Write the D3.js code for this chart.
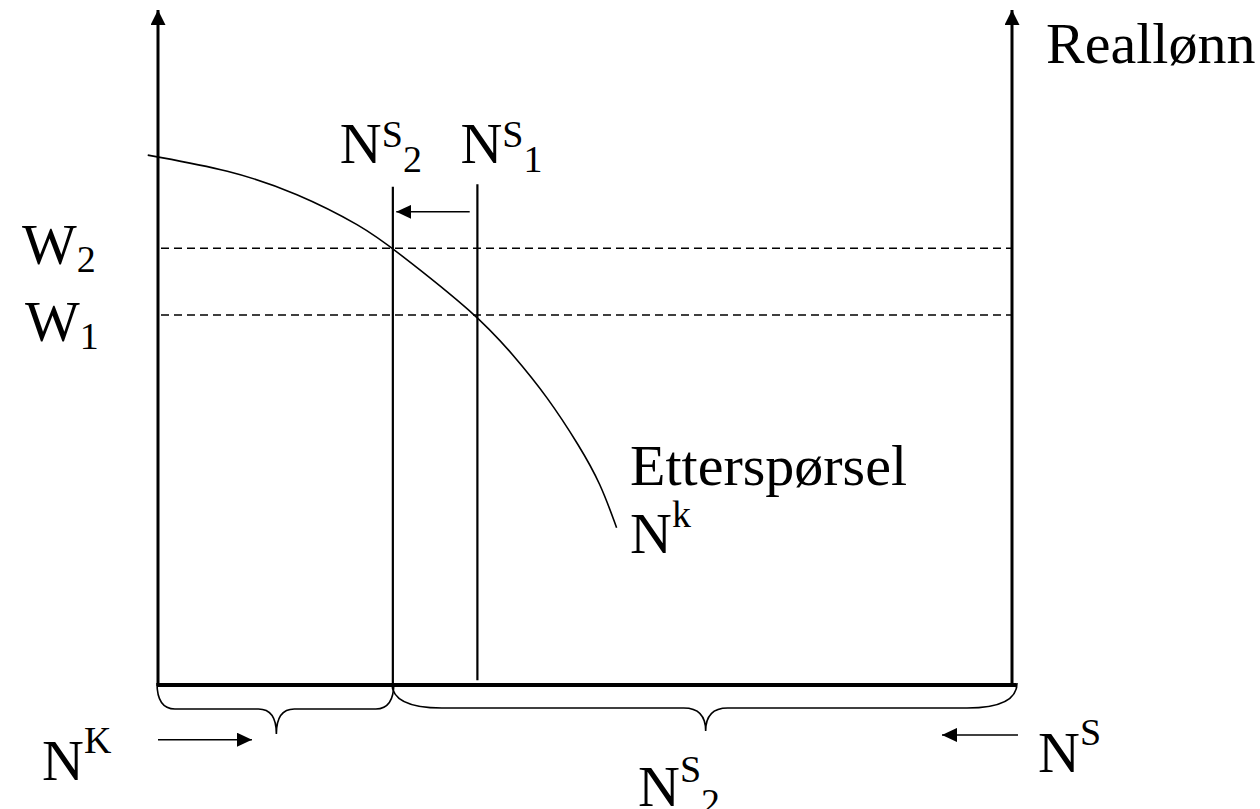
<!DOCTYPE html>
<html>
<head>
<meta charset="utf-8">
<script src="https://cdn.jsdelivr.net/npm/d3@7"></script>
<style>
  body { margin: 0; background: #fff; }
  text { font-family: "Liberation Serif", "Times New Roman", serif; fill: #000; }
</style>
</head>
<body>
<div id="diagram"></div>
<script>
// labour market diagram: demand curve, two supply levels, two wage levels
// data units: x = labour 0..100 between the two axes, y = real wage 0..100
var demandX = [-1.2, 8.4, 16.3, 24.0, 27.5, 37.4, 41.6, 45.6, 49.4, 51.8, 53.7];
var demandY = [78.5, 76.3, 72.9, 67.9, 64.7, 54.8, 48.9, 42.7, 35.3, 29.9, 23.3];
var wageLevels = [64.7, 54.8];
var wageSubs = ["2", "1"];
var supplyLevels = [27.5, 37.4];
var supplyTops = [73.8, 74.2];
var supplyBottoms = [0, 0.7];
var supplySubs = ["2", "1"];
var braceSpans = [[0, 27.5], [27.5, 100]];

var width = 1260;
var height = 809;

var svg = d3.select("#diagram").append("svg")
  .attr("width", width).attr("height", height);

// scales
var xScale = d3.scaleLinear().domain([0, 100]).range([158, 1012]);
var yScale = d3.scaleLinear().domain([0, 100]).range([685, 10]);

// arrow heads
var defs = svg.append("defs");
function addMarker(id, w, h) {
  defs.append("marker").attr("id", id)
    .attr("markerUnits", "userSpaceOnUse")
    .attr("markerWidth", w).attr("markerHeight", h)
    .attr("viewBox", "0 0 " + w + " " + h)
    .attr("refX", w).attr("refY", h / 2)
    .attr("orient", "auto")
    .append("path")
    .attr("d", "M0,0 L" + w + "," + (h / 2) + " L0," + h + " Z")
    .attr("fill", "#000");
}
addMarker("bigArrow", 15, 15);
addMarker("smallArrow", 15, 14);

// vertical axes (left and right)
svg.selectAll("line.axis").data([0, 100]).enter()
  .append("line").attr("class", "axis")
  .attr("x1", function(d) { return xScale(d); })
  .attr("x2", function(d) { return xScale(d); })
  .attr("y1", yScale(0) + 1)
  .attr("y2", yScale(100))
  .attr("stroke", "#000").attr("stroke-width", 3)
  .attr("marker-end", "url(#bigArrow)");

// bottom axis
svg.append("line")
  .attr("x1", xScale(0) - 1).attr("x2", xScale(100) + 4)
  .attr("y1", yScale(0)).attr("y2", yScale(0))
  .attr("stroke", "#000").attr("stroke-width", 4);

// dashed wage lines
svg.selectAll("line.wage").data(wageLevels).enter()
  .append("line").attr("class", "wage")
  .attr("x1", xScale(0) + 3).attr("x2", xScale(100))
  .attr("y1", function(d) { return yScale(d); })
  .attr("y2", function(d) { return yScale(d); })
  .attr("stroke", "#000").attr("stroke-width", 1.5)
  .attr("stroke-dasharray", "8,5");

// vertical supply lines
svg.selectAll("line.supply").data(supplyLevels).enter()
  .append("line").attr("class", "supply")
  .attr("x1", function(d) { return xScale(d); })
  .attr("x2", function(d) { return xScale(d); })
  .attr("y1", function(d, i) { return yScale(supplyTops[i]); })
  .attr("y2", function(d, i) { return yScale(supplyBottoms[i]); })
  .attr("stroke", "#000").attr("stroke-width", 2.2);

// shift arrow N1 -> N2
svg.append("line")
  .attr("x1", xScale(36.5)).attr("x2", xScale(27.9))
  .attr("y1", yScale(70.1)).attr("y2", yScale(70.1))
  .attr("stroke", "#000").attr("stroke-width", 1.5)
  .attr("marker-end", "url(#smallArrow)");

// demand curve
var demand = demandX.map(function(d, i) { return [d, demandY[i]]; });
var line = d3.line()
  .x(function(d) { return xScale(d[0]); })
  .y(function(d) { return yScale(d[1]); })
  .curve(d3.curveBasis);
svg.append("path").datum(demand)
  .attr("d", line)
  .attr("fill", "none").attr("stroke", "#000").attr("stroke-width", 1.6);

// braces under the axis
var braceShape = [
  { r: 18, r2: 18, tip: 0.504, drop: 26, depth: 51 },
  { r: 50, r2: 22, tip: 0.502, drop: 25, depth: 48 }
];
svg.selectAll("path.brace").data(braceSpans).enter()
  .append("path").attr("class", "brace")
  .attr("d", function(d, i) {
    var s = braceShape[i];
    var x0 = xScale(d[0]) - 1, x1 = xScale(d[1]) + (i === 1 ? 5 : 1);
    var y0 = yScale(0) - 2, y1 = y0 + s.drop;
    var tx = x0 + (x1 - x0) * s.tip, ty = y0 + s.depth;
    return "M" + x0 + "," + y0 +
      " Q" + x0 + "," + y1 + " " + (x0 + s.r) + "," + y1 +
      " L" + (tx - s.r2) + "," + y1 +
      " Q" + tx + "," + y1 + " " + tx + "," + ty +
      " Q" + tx + "," + y1 + " " + (tx + s.r2) + "," + y1 +
      " L" + (x1 - s.r) + "," + y1 +
      " Q" + x1 + "," + y1 + " " + x1 + "," + y0;
  })
  .attr("fill", "none").attr("stroke", "#000").attr("stroke-width", 1.6);

// bottom arrows: N^K pushes right, N^S pushes left
svg.append("line")
  .attr("x1", xScale(0)).attr("x2", xScale(11))
  .attr("y1", yScale(-8.1)).attr("y2", yScale(-8.1))
  .attr("stroke", "#000").attr("stroke-width", 1.5)
  .attr("marker-end", "url(#smallArrow)");
svg.append("line")
  .attr("x1", xScale(100.7)).attr("x2", xScale(91.8))
  .attr("y1", yScale(-7.4)).attr("y2", yScale(-7.4))
  .attr("stroke", "#000").attr("stroke-width", 1.5)
  .attr("marker-end", "url(#smallArrow)");

// text labels with super/subscripts
var big = 58, small = 38;
function label(x, y, parts) {
  var t = svg.append("text").attr("x", x).attr("y", y);
  parts.forEach(function(p) {
    t.append("tspan").attr("font-size", p[1]).attr("dy", p[2] || 0).text(p[0]);
  });
  return t;
}

label(1046, 63, [["Reallønn", big]]);
supplyLevels.forEach(function(d, i) {
  label(xScale(d) - (i === 0 ? 53 : 17), 163,
    [["N", big], ["S", small, -16], [supplySubs[i], small, 25]]);
});
wageLevels.forEach(function(d, i) {
  label(i === 0 ? 22 : 25, yScale(d) + (i === 0 ? 16 : 26),
    [["W", big], [wageSubs[i], small, 8]]);
});
label(630, 485, [["Etterspørsel", big]]);
label(630, 553, [["N", big], ["k", small, -26]]);
label(42, 780, [["N", big], ["K", small, -27]]);
label(638, 806, [["N", big], ["S", small, -24], ["2", small, 33]]);
label(1038, 772, [["N", big], ["S", small, -27]]);
</script>
</body>
</html>
